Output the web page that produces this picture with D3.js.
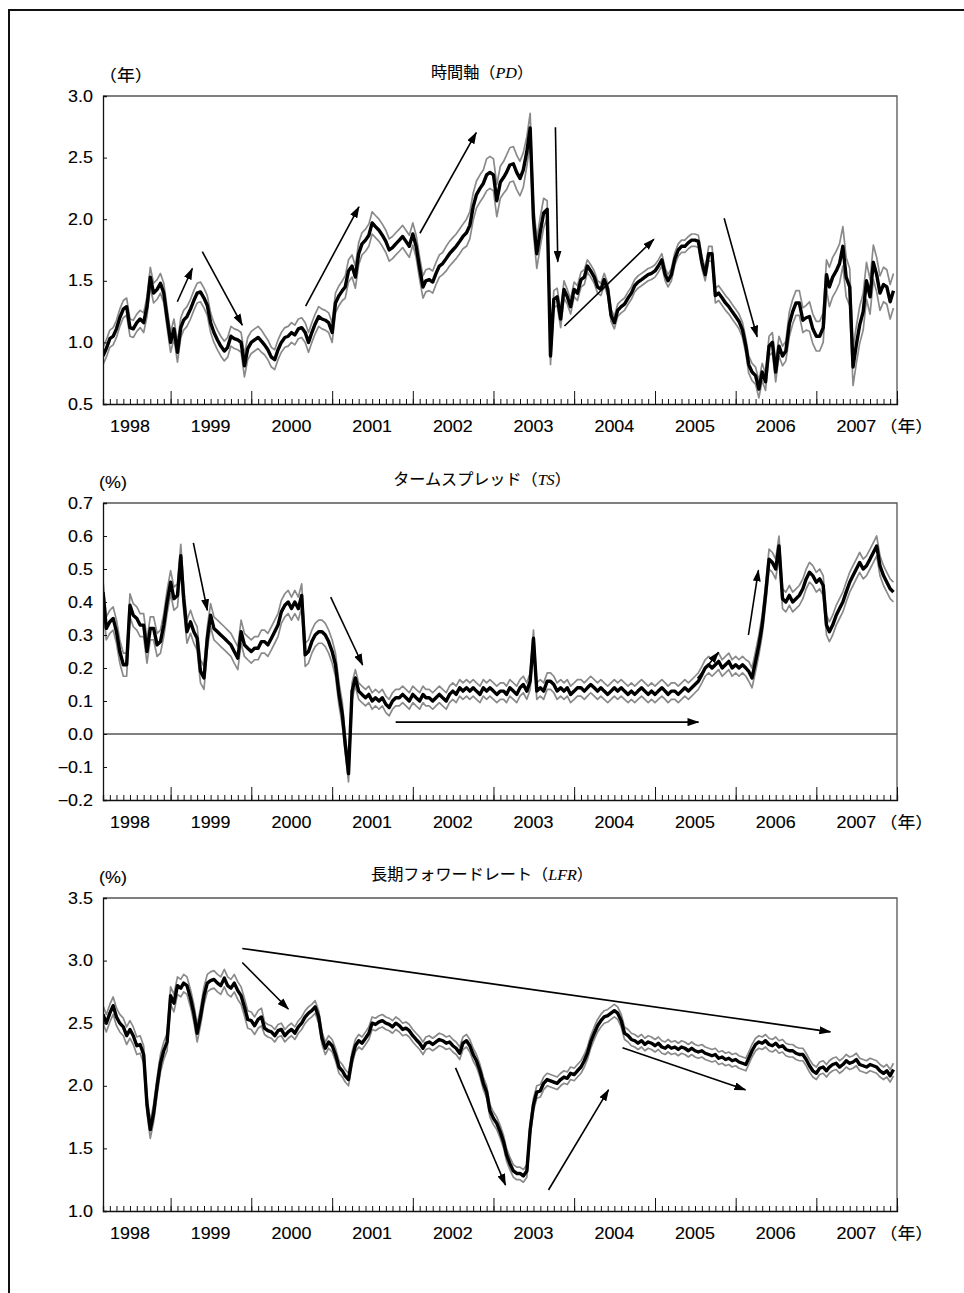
<!DOCTYPE html>
<html>
<head>
<meta charset="utf-8">
<script src="https://cdn.jsdelivr.net/npm/d3@7"></script>
<style>
  body { margin: 0; background: #fff; }
  svg { display: block; }
</style>
</head>
<body>
<svg id="chart" width="964" height="1293"></svg>
<script>
// Semi-monthly observations from March 1998 to December 2007 (1st and 16th of each month)
const firstMonth = [1998, 2];
const nObs = 236;

// 時間軸 (PD), years
const pdMid = [
  0.89,0.95,1.03,1.05,1.11,1.20,1.27,1.29,1.12,1.11,1.16,1.19,
  1.16,1.29,1.53,1.40,1.43,1.48,1.40,1.20,1.00,1.11,0.92,1.12,
  1.18,1.21,1.27,1.34,1.40,1.41,1.36,1.30,1.16,1.08,1.02,0.97,
  0.93,0.96,1.05,1.03,1.02,1.00,0.81,0.95,1.00,1.02,1.04,1.01,
  0.98,0.94,0.88,0.86,0.94,1.00,1.04,1.05,1.08,1.06,1.11,1.12,
  1.08,1.00,1.08,1.15,1.21,1.19,1.18,1.16,1.08,1.32,1.38,1.42,
  1.45,1.58,1.62,1.53,1.72,1.80,1.83,1.87,1.97,1.94,1.91,1.87,
  1.82,1.75,1.77,1.80,1.83,1.86,1.82,1.78,1.88,1.78,1.60,1.45,
  1.50,1.51,1.49,1.56,1.62,1.64,1.68,1.72,1.75,1.78,1.82,1.86,
  1.89,1.95,2.10,2.20,2.25,2.29,2.36,2.38,2.36,2.15,2.30,2.34,
  2.38,2.44,2.45,2.38,2.33,2.40,2.55,2.74,2.00,1.72,1.90,2.05,
  2.08,0.89,1.35,1.37,1.19,1.43,1.37,1.29,1.43,1.40,1.51,1.53,
  1.62,1.58,1.53,1.45,1.43,1.51,1.43,1.22,1.16,1.26,1.29,1.31,
  1.36,1.40,1.46,1.49,1.51,1.53,1.55,1.56,1.58,1.62,1.67,1.55,
  1.50,1.55,1.68,1.75,1.78,1.78,1.81,1.83,1.83,1.82,1.65,1.55,
  1.72,1.72,1.38,1.40,1.36,1.32,1.29,1.25,1.21,1.17,1.10,0.97,
  0.82,0.76,0.73,0.62,0.76,0.68,0.97,1.00,0.76,0.97,0.89,0.93,
  1.15,1.25,1.32,1.32,1.18,1.20,1.21,1.11,1.05,1.05,1.12,1.55,
  1.45,1.53,1.58,1.64,1.78,1.53,1.45,0.80,0.98,1.14,1.25,1.50,
  1.37,1.65,1.55,1.40,1.47,1.45,1.33,1.42
];
// half-width of the confidence band, one value per quarter
const pdBand = [
  0.07,0.07,0.08,0.08,0.08,0.08,0.08,0.09,0.08,0.08,
  0.08,0.08,0.09,0.09,0.09,0.09,0.09,0.10,0.11,0.13,
  0.14,0.12,0.07,0.06,0.05,0.05,0.05,0.05,0.05,0.05,
  0.06,0.06,0.07,0.08,0.10,0.12,0.16,0.15,0.14,0.14
];

// タームスプレッド (TS), %
const tsMid = [
  0.43,0.32,0.34,0.35,0.31,0.25,0.21,0.21,0.39,0.36,0.35,0.33,
  0.33,0.25,0.32,0.32,0.27,0.28,0.33,0.40,0.46,0.41,0.42,0.54,
  0.41,0.31,0.34,0.31,0.29,0.19,0.17,0.29,0.36,0.32,0.31,0.30,
  0.29,0.28,0.27,0.25,0.23,0.31,0.27,0.26,0.25,0.26,0.26,0.28,
  0.28,0.27,0.29,0.31,0.33,0.37,0.39,0.40,0.38,0.40,0.38,0.42,
  0.24,0.25,0.28,0.30,0.31,0.31,0.30,0.28,0.25,0.21,0.12,0.06,
  -0.03,-0.12,0.13,0.17,0.13,0.12,0.11,0.12,0.10,0.11,0.10,0.11,
  0.09,0.08,0.10,0.11,0.11,0.12,0.11,0.10,0.12,0.11,0.10,0.12,
  0.11,0.11,0.10,0.11,0.12,0.11,0.10,0.12,0.13,0.12,0.14,0.13,
  0.14,0.13,0.14,0.13,0.12,0.14,0.13,0.14,0.13,0.12,0.13,0.13,
  0.12,0.14,0.13,0.12,0.14,0.15,0.13,0.16,0.29,0.13,0.14,0.13,
  0.16,0.16,0.15,0.13,0.14,0.13,0.14,0.12,0.13,0.14,0.14,0.13,
  0.14,0.15,0.14,0.13,0.14,0.13,0.12,0.13,0.14,0.13,0.14,0.13,
  0.12,0.13,0.12,0.13,0.14,0.13,0.12,0.13,0.12,0.13,0.14,0.13,
  0.12,0.13,0.13,0.12,0.13,0.14,0.13,0.14,0.15,0.16,0.18,0.20,
  0.21,0.20,0.21,0.22,0.20,0.21,0.22,0.20,0.21,0.20,0.21,0.20,
  0.19,0.17,0.22,0.27,0.33,0.42,0.53,0.52,0.50,0.57,0.41,0.40,
  0.42,0.40,0.41,0.42,0.44,0.47,0.49,0.48,0.46,0.47,0.45,0.33,
  0.31,0.33,0.36,0.38,0.40,0.43,0.46,0.48,0.50,0.52,0.50,0.51,
  0.53,0.55,0.57,0.51,0.48,0.46,0.44,0.43
];
const tsBand = [
  0.035,0.035,0.035,0.035,0.035,0.035,0.035,0.035,0.035,0.035,
  0.035,0.035,0.025,0.025,0.025,0.025,0.025,0.025,0.025,0.025,
  0.025,0.025,0.025,0.025,0.025,0.025,0.025,0.025,0.025,0.025,
  0.025,0.025,0.030,0.030,0.030,0.030,0.030,0.030,0.030,0.030
];

// 長期フォワードレート (LFR), %
const lfrMid = [
  2.57,2.50,2.58,2.64,2.55,2.50,2.47,2.40,2.45,2.40,2.32,2.33,
  2.25,1.85,1.65,1.78,2.00,2.18,2.28,2.35,2.72,2.66,2.80,2.78,
  2.82,2.80,2.70,2.58,2.42,2.55,2.72,2.82,2.84,2.85,2.82,2.80,
  2.86,2.80,2.78,2.82,2.76,2.72,2.63,2.53,2.52,2.48,2.53,2.55,
  2.46,2.44,2.43,2.40,2.44,2.45,2.40,2.43,2.45,2.42,2.47,2.50,
  2.55,2.58,2.60,2.63,2.55,2.38,2.30,2.35,2.32,2.25,2.15,2.12,
  2.08,2.05,2.22,2.32,2.36,2.34,2.38,2.42,2.50,2.49,2.51,2.52,
  2.50,2.49,2.47,2.50,2.48,2.45,2.46,2.44,2.40,2.37,2.34,2.30,
  2.34,2.35,2.33,2.35,2.37,2.36,2.34,2.35,2.32,2.30,2.26,2.34,
  2.36,2.32,2.25,2.20,2.12,2.02,1.95,1.80,1.74,1.70,1.63,1.55,
  1.45,1.38,1.32,1.30,1.30,1.28,1.32,1.65,1.85,1.95,1.96,2.02,
  2.05,2.04,2.03,2.02,2.05,2.07,2.06,2.10,2.09,2.12,2.15,2.20,
  2.26,2.35,2.42,2.48,2.52,2.55,2.56,2.58,2.60,2.58,2.52,2.42,
  2.40,2.37,2.36,2.34,2.36,2.33,2.35,2.34,2.32,2.34,2.31,2.30,
  2.32,2.30,2.31,2.29,2.31,2.30,2.28,2.30,2.28,2.27,2.28,2.26,
  2.25,2.24,2.25,2.22,2.23,2.21,2.22,2.20,2.21,2.19,2.18,2.17,
  2.22,2.28,2.33,2.35,2.34,2.36,2.33,2.32,2.34,2.31,2.32,2.29,
  2.28,2.28,2.26,2.25,2.25,2.21,2.16,2.12,2.10,2.14,2.15,2.12,
  2.15,2.17,2.18,2.15,2.17,2.20,2.18,2.19,2.21,2.17,2.16,2.15,
  2.17,2.16,2.15,2.12,2.10,2.12,2.08,2.13
];
const lfrBand = [
  0.07,0.07,0.07,0.07,0.07,0.07,0.07,0.07,0.05,0.05,
  0.05,0.05,0.05,0.05,0.05,0.05,0.05,0.05,0.05,0.05,
  0.05,0.05,0.05,0.05,0.05,0.05,0.05,0.05,0.05,0.05,
  0.05,0.05,0.05,0.05,0.05,0.05,0.05,0.05,0.05,0.05
];

// Trend arrows: [start year, start value, end year, end value]
const pdArrows = [
  [1999.083,1.33,1999.269,1.60],
  [1999.393,1.736,1999.888,1.141],
  [2000.672,1.295,2001.332,2.101],
  [2002.088,1.886,2002.786,2.702],
  [2003.768,2.746,2003.797,1.655],
  [2003.88,1.133,2004.986,1.837],
  [2005.857,2.007,2006.266,1.046]
];
const tsArrows = [
  [1999.282,0.579,1999.455,0.375],
  [2000.982,0.415,2001.378,0.209],
  [2001.787,0.036,2005.539,0.036],
  [2005.527,0.169,2005.787,0.248],
  [2006.158,0.30,2006.282,0.496]
];
const lfrArrows = [
  [1999.888,3.097,2007.174,2.431],
  [1999.888,2.985,2000.458,2.613],
  [2002.53,2.143,2003.149,1.208],
  [2003.682,1.168,2004.425,1.968],
  [2004.598,2.303,2006.121,1.968]
];

const yearLabels = ["1998","1999","2000","2001","2002","2003","2004","2005","2006","2007"];
const pdTicks = [0.5,1.0,1.5,2.0,2.5,3.0];
const tsTicks = [-0.2,-0.1,0.0,0.1,0.2,0.3,0.4,0.5,0.6,0.7];
const lfrTicks = [1.0,1.5,2.0,2.5,3.0,3.5];

// ---------------------------------------------------------------
const dates = d3.range(nObs).map(i =>
  new Date(firstMonth[0], firstMonth[1] + Math.floor(i / 2), i % 2 ? 16 : 1));
const fromYear = v => {
  const y = Math.floor(v), s = new Date(y, 0, 1), e = new Date(y + 1, 0, 1);
  return new Date(+s + (v - y) * (e - s));
};

const panels = [
  { title: ["時間軸（", "PD", "）"], unit: "（年）", mid: pdMid, band: pdBand,
    domain: [0.5, 3.0], ticks: pdTicks, arrows: pdArrows, top: 96, bottom: 404, zero: false },
  { title: ["タームスプレッド（", "TS", "）"], unit: "(%)", mid: tsMid, band: tsBand,
    domain: [-0.2, 0.7], ticks: tsTicks, arrows: tsArrows, top: 503, bottom: 800, zero: true },
  { title: ["長期フォワードレート（", "LFR", "）"], unit: "(%)", mid: lfrMid, band: lfrBand,
    domain: [1.0, 3.5], ticks: lfrTicks, arrows: lfrArrows, top: 898, bottom: 1211, zero: false }
];

const left = 103, right = 897;
const SANS = "'Liberation Sans', Arial, 'Noto Sans CJK JP', sans-serif";
const SX = 1.12; // horizontal stretch of the lettering

const svg = d3.select("#chart");

// page frame (top and left rules)
svg.append("line").attr("x1", 8).attr("x2", 964).attr("y1", 10).attr("y2", 10)
  .attr("stroke", "#111").attr("stroke-width", 2);
svg.append("line").attr("x1", 9).attr("x2", 9).attr("y1", 9).attr("y2", 1293)
  .attr("stroke", "#111").attr("stroke-width", 2);

const defs = svg.append("defs");
defs.append("marker").attr("id", "head")
  .attr("viewBox", "0 0 12 8").attr("refX", 11).attr("refY", 4)
  .attr("markerWidth", 12).attr("markerHeight", 8)
  .attr("markerUnits", "userSpaceOnUse").attr("orient", "auto")
  .append("path").attr("d", "M0,0 L12,4 L0,8 Z").attr("fill", "#000");

function text(g, x, y, str, anchor, size) {
  return g.append("text")
    .attr("transform", `translate(${x},${y}) scale(${SX},1)`)
    .attr("text-anchor", anchor).attr("font-family", SANS)
    .attr("font-size", size).attr("fill", "#000")
    .attr("stroke", "#000").attr("stroke-width", 0.12).text(str);
}

const x = d3.scaleTime()
  .domain([new Date(1998, 2, 1), new Date(2008, 0, 1)])
  .range([left, right]);

panels.forEach((p, k) => {
  const g = svg.append("g");
  const y = d3.scaleLinear().domain(p.domain).range([p.bottom, p.top]);

  const clipId = "clip" + k;
  defs.append("clipPath").attr("id", clipId).append("rect")
    .attr("x", left).attr("y", p.top).attr("width", right - left).attr("height", p.bottom - p.top);

  const rows = dates.map((d, i) => ({
    d, m: p.mid[i], w: p.band[Math.floor(i / 6)]
  }));

  const plot = g.append("g").attr("clip-path", `url(#${clipId})`);
  const line = acc => d3.line().x(r => x(r.d)).y(r => y(acc(r)));

  plot.append("path").datum(rows).attr("d", line(r => r.m + r.w))
    .attr("fill", "none").attr("stroke", "#8a8a8a").attr("stroke-width", 1.7)
    .attr("stroke-linejoin", "round");
  plot.append("path").datum(rows).attr("d", line(r => r.m - r.w))
    .attr("fill", "none").attr("stroke", "#8a8a8a").attr("stroke-width", 1.7)
    .attr("stroke-linejoin", "round");
  plot.append("path").datum(rows).attr("d", line(r => r.m))
    .attr("fill", "none").attr("stroke", "#000").attr("stroke-width", 3.4)
    .attr("stroke-linejoin", "round");

  if (p.zero) {
    g.append("line").attr("x1", left).attr("x2", right)
      .attr("y1", y(0)).attr("y2", y(0)).attr("stroke", "#000").attr("stroke-width", 1);
  }

  // plot frame
  g.append("path")
    .attr("d", `M${left},${p.top}H${right}V${p.bottom}`)
    .attr("fill", "none").attr("stroke", "#555").attr("stroke-width", 1.3);

  // y axis: inward ticks
  const yAxis = d3.axisRight(y).tickValues(p.ticks).tickSize(4).tickFormat("");
  const ya = g.append("g").attr("transform", `translate(${left},0)`).call(yAxis);
  ya.select(".domain").attr("stroke", "#111").attr("stroke-width", 1.3);
  ya.selectAll(".tick line").attr("stroke", "#111");
  p.ticks.forEach(t => {
    text(g, left - 10, y(t) + 5.5, d3.format(".1f")(t).replace("-", "−"), "end", 16);
  });

  // x axis: monthly minor ticks and yearly major ticks, pointing up
  const monthAxis = d3.axisTop(x).ticks(d3.timeMonth.every(1)).tickSize(5).tickFormat("");
  const xa = g.append("g").attr("transform", `translate(0,${p.bottom})`).call(monthAxis);
  xa.select(".domain").attr("stroke", "#111").attr("stroke-width", 1.3);
  xa.selectAll(".tick line").attr("stroke", "#111");
  const yearAxis = d3.axisTop(x).ticks(d3.timeYear.every(1)).tickSize(13).tickFormat("");
  const xb = g.append("g").attr("transform", `translate(0,${p.bottom})`).call(yearAxis);
  xb.select(".domain").remove();
  xb.selectAll(".tick line").attr("stroke", "#111");

  yearLabels.forEach(lbl => {
    const cx = x(new Date(+lbl, 6, 1));
    text(g, cx, p.bottom + 28, lbl, "middle", 16);
  });
  text(g, x(new Date(2007, 6, 1)) + 50, p.bottom + 28, "（年）", "middle", 16);

  // title
  const tt = g.append("text")
    .attr("transform", `translate(${482},${p.top - 18}) scale(1.04,1)`)
    .attr("text-anchor", "middle").attr("font-family", SANS)
    .attr("font-size", 15.5).attr("fill", "#000")
    .attr("stroke", "#000").attr("stroke-width", 0.1);
  tt.append("tspan").text(p.title[0]);
  tt.append("tspan").attr("font-family", "'Liberation Serif', 'Times New Roman', serif")
    .attr("font-style", "italic").text(p.title[1]);
  tt.append("tspan").text(p.title[2]);

  // unit
  text(g, left - 4, p.top - 15, p.unit, "start", 16);

  // trend arrows
  p.arrows.forEach(a => {
    g.append("line")
      .attr("x1", x(fromYear(a[0]))).attr("y1", y(a[1]))
      .attr("x2", x(fromYear(a[2]))).attr("y2", y(a[3]))
      .attr("stroke", "#000").attr("stroke-width", 1.6)
      .attr("marker-end", "url(#head)");
  });
});
</script>
</body>
</html>
